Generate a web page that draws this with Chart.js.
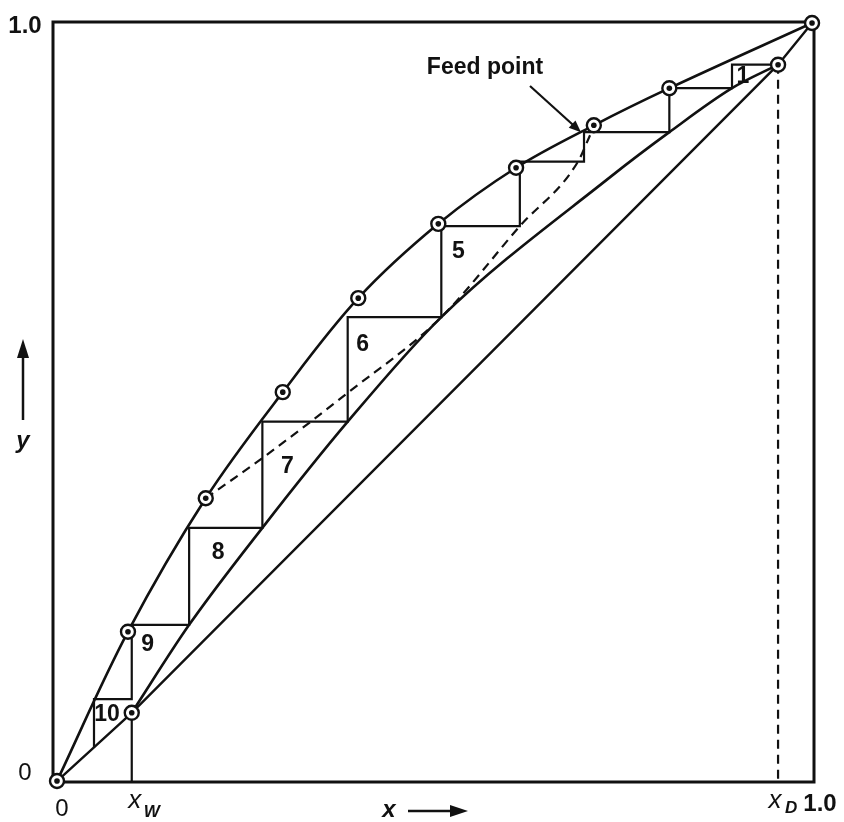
<!DOCTYPE html>
<html>
<head>
<meta charset="utf-8">
<script src="https://cdn.jsdelivr.net/npm/chart.js@4.4.1/dist/chart.umd.min.js"></script>
<style>
  html, body { margin: 0; padding: 0; background: #fff; }
  #wrap { width: 844px; height: 822px; }
</style>
</head>
<body>
<div id="wrap"><canvas id="c" width="844" height="822"></canvas></div>
<script>
// Equilibrium curve data (liquid x, vapour y)
const eqX = [0, 0.094, 0.197, 0.299, 0.399, 0.505, 0.608, 0.711, 0.811, 1.0];
const eqY = [0, 0.197, 0.373, 0.513, 0.637, 0.735, 0.809, 0.865, 0.914, 1.0];

// Bottoms and distillate compositions
const xWpoint = [0.099, 0.090];
const xDpoint = [0.955, 0.945];

// 45-degree reference line
const diagX = [0, 0.099, 0.955, 1.0];
const diagY = [0, 0.090, 0.945, 1.0];

// Operating curve
const opX = [0.099, 0.175, 0.272, 0.385, 0.509, 0.733, 0.811, 0.894, 0.955];
const opY = [0.090, 0.206, 0.334, 0.474, 0.612, 0.797, 0.856, 0.914, 0.945];

// Dashed line running up to the feed point
const dashX = [0.197, 0.272, 0.385, 0.509, 0.613, 0.690, 0.706];
const dashY = [0.373, 0.426, 0.512, 0.612, 0.732, 0.817, 0.852];

// Ideal stages: liquid composition (step corner on the equilibrium curve) and vapour composition
const stageX = [0.894, 0.811, 0.698, 0.613, 0.509, 0.385, 0.272, 0.175, 0.099, 0.049];
const stageY = [0.945, 0.914, 0.856, 0.817, 0.732, 0.612, 0.474, 0.334, 0.206, 0.108];
const lastStepFoot = 0.044;

// Feed point
const feedPoint = [0.694, 0.856];

// Stage numbers that are written on the diagram
const stageLabels = ['1', '5', '6', '7', '8', '9', '10'];

const pts = (xs, ys) => xs.map((x, i) => ({ x: x, y: ys[i] }));

// staircase: horizontal to the equilibrium curve, then vertical down to the operating line
const stairs = [{ x: xDpoint[0], y: stageY[0] }];
stageX.forEach((x, i) => {
  stairs.push({ x: x, y: stageY[i] });
  stairs.push({ x: x, y: i + 1 < stageY.length ? stageY[i + 1] : lastStepFoot });
});

const circlePts = pts(eqX, eqY).concat([{ x: xWpoint[0], y: xWpoint[1] }, { x: xDpoint[0], y: xDpoint[1] }]);

const FONT = '"Liberation Sans", Arial, Helvetica, sans-serif';
const BLACK = '#111';

const labelOffsets = {
  '1': [11, 12], '5': [17, 26], '6': [15, 28], '7': [25, 45],
  '8': [29, 25], '9': [16, 20], '10': [13, 16]
};

// plot frame, drawn underneath the marks
const frame = {
  id: 'frame',
  beforeDatasetsDraw(chart) {
    const ctx = chart.ctx, a = chart.chartArea;
    ctx.save();
    ctx.strokeStyle = BLACK;
    ctx.lineWidth = 3;
    ctx.strokeRect(a.left, a.top, a.right - a.left, a.bottom - a.top);
    ctx.restore();
  }
};

const decor = {
  id: 'decor',
  afterDatasetsDraw(chart) {
    const ctx = chart.ctx;
    const sx = chart.scales.x, sy = chart.scales.y;
    ctx.save();
    ctx.fillStyle = BLACK;
    ctx.strokeStyle = BLACK;
    const text = (s, x, y, font, align, base) => {
      ctx.font = font;
      ctx.textAlign = align || 'center';
      ctx.textBaseline = base || 'middle';
      ctx.fillText(s, x, y);
    };

    // stage numbers
    stageLabels.forEach(n => {
      const i = parseInt(n, 10) - 1;
      const off = labelOffsets[n];
      text(n, sx.getPixelForValue(stageX[i]) + off[0], sy.getPixelForValue(stageY[i]) + off[1], 'bold 23px ' + FONT);
    });

    // tick labels
    text('1.0', 25, 26, 'bold 24px ' + FONT);
    text('0', 25, 773, '24px ' + FONT);
    text('0', 62, 809, '24px ' + FONT);
    const pxW = sx.getPixelForValue(xWpoint[0]);
    text('x', pxW + 3, 801, 'italic 26px ' + FONT);
    text('W', pxW + 20, 812, 'italic bold 17px ' + FONT);
    const pxD = sx.getPixelForValue(xDpoint[0]);
    text('x', pxD - 3, 801, 'italic 26px ' + FONT);
    text('D', pxD + 13, 808, 'italic bold 17px ' + FONT);
    text('1.0', 820, 804, 'bold 24px ' + FONT);

    // axis names with arrows
    text('x', 389, 810, 'italic bold 24px ' + FONT);
    ctx.lineWidth = 2.5;
    ctx.beginPath(); ctx.moveTo(408, 811); ctx.lineTo(452, 811); ctx.stroke();
    ctx.beginPath(); ctx.moveTo(468, 811); ctx.lineTo(450, 805); ctx.lineTo(450, 817); ctx.closePath(); ctx.fill();

    text('y', 23, 441, 'italic bold 24px ' + FONT);
    ctx.beginPath(); ctx.moveTo(23, 420); ctx.lineTo(23, 355); ctx.stroke();
    ctx.beginPath(); ctx.moveTo(23, 339); ctx.lineTo(17, 358); ctx.lineTo(29, 358); ctx.closePath(); ctx.fill();

    // feed point callout
    const fx = sx.getPixelForValue(feedPoint[0]), fy = sy.getPixelForValue(feedPoint[1]);
    text('Feed point', 485, 74, 'bold 23px ' + FONT, 'center', 'alphabetic');
    const x0 = 530, y0 = 86;
    const ang = Math.atan2(fy - y0, fx - x0);
    ctx.lineWidth = 2.2;
    ctx.beginPath(); ctx.moveTo(x0, y0); ctx.lineTo(fx - 8 * Math.cos(ang), fy - 8 * Math.sin(ang)); ctx.stroke();
    ctx.beginPath();
    ctx.moveTo(fx, fy);
    ctx.lineTo(fx - 12 * Math.cos(ang) + 5 * Math.sin(ang), fy - 12 * Math.sin(ang) - 5 * Math.cos(ang));
    ctx.lineTo(fx - 12 * Math.cos(ang) - 5 * Math.sin(ang), fy - 12 * Math.sin(ang) + 5 * Math.cos(ang));
    ctx.closePath(); ctx.fill();
    ctx.restore();
  }
};

const line = (data, extra) => Object.assign({
  data: data, showLine: true, borderColor: BLACK, borderWidth: 2.4,
  pointRadius: 0, fill: false, tension: 0, order: 5
}, extra || {});

new Chart(document.getElementById('c'), {
  type: 'scatter',
  data: {
    datasets: [
      line(pts(diagX, diagY)),
      line(pts(eqX, eqY), { tension: 0.35, borderWidth: 2.6 }),
      line(pts(opX, opY), { cubicInterpolationMode: 'monotone', borderWidth: 2.6 }),
      line(pts(dashX, dashY), { cubicInterpolationMode: 'monotone', borderDash: [9, 6], borderWidth: 2.2 }),
      line(stairs, { borderWidth: 2.2 }),
      line([{ x: xWpoint[0], y: xWpoint[1] }, { x: xWpoint[0], y: 0 }], { borderWidth: 2.2 }),
      line([{ x: xDpoint[0], y: xDpoint[1] }, { x: xDpoint[0], y: 0 }], { borderDash: [9, 6], borderWidth: 2.2 }),
      { data: circlePts, showLine: false, pointRadius: 7, pointBorderWidth: 2.4, clip: false,
        pointBorderColor: BLACK, pointBackgroundColor: '#fff', order: 1 },
      { data: circlePts, showLine: false, pointRadius: 2.8, pointBorderWidth: 0, clip: false,
        pointBackgroundColor: BLACK, order: 0 }
    ]
  },
  options: {
    responsive: false,
    devicePixelRatio: 1,
    animation: false,
    layout: { padding: { left: 53, right: 30, top: 22, bottom: 40 } },
    plugins: { legend: { display: false }, tooltip: { enabled: false } },
    scales: {
      x: { type: 'linear', min: -0.0053, max: 1.0026, display: false },
      y: { type: 'linear', min: -0.0013, max: 1.0013, display: false }
    }
  },
  plugins: [frame, decor]
});
</script>
</body>
</html>
